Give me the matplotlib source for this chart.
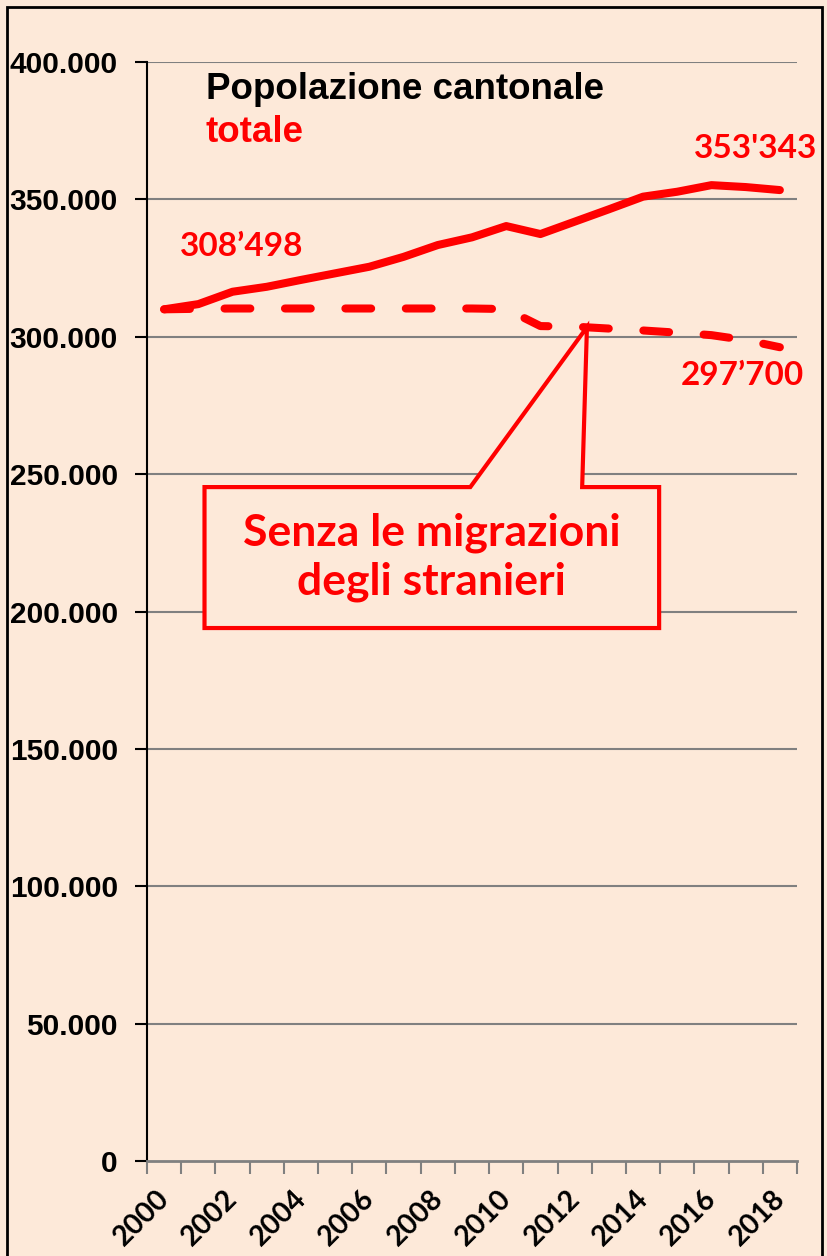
import matplotlib
matplotlib.use('Agg')
import matplotlib.pyplot as plt
from matplotlib.patches import Polygon, Rectangle
from matplotlib.ticker import FixedLocator
from matplotlib.transforms import ScaledTranslation
import numpy as np

years = list(range(2000, 2019))
totale = [310000, 311900, 316400, 318200, 320700, 323100, 325500, 329100,
          333400, 336200, 340300, 337400, 341900, 346400, 351000, 352800,
          355200, 354500, 353400]
senza_migrazioni = [310000, 310200, 310300, 310300, 310300, 310300, 310300,
                    310300, 310300, 310300, 310100, 303900, 303700, 303000,
                    302300, 301500, 300600, 298800, 296200]
y_ticks = [0, 50000, 100000, 150000, 200000, 250000, 300000, 350000, 400000]
y_labels = ['0', '50.000', '100.000', '150.000', '200.000', '250.000',
            '300.000', '350.000', '400.000']

BG = '#FDE9D9'
RED = '#FF0000'
CALIBRI = ['Lato', 'DejaVu Sans']
ARIAL = ['Liberation Sans', 'DejaVu Sans']

fig = plt.figure(figsize=(8.27, 12.56), dpi=100, facecolor=BG)
ax = fig.add_axes([0.1778, 0.0756, 0.9637 - 0.1778, 0.9506 - 0.0756])
ax.set_facecolor(BG)

x = np.arange(len(years))
ax.plot(x, totale, color=RED, lw=5.8, solid_capstyle='round',
        solid_joinstyle='round', zorder=4)
ax.plot(x, senza_migrazioni, color=RED, lw=5.8, dashes=(3.2, 4.3),
        dash_capstyle='round', zorder=4)

ax.set_xlim(-0.5, len(years) - 0.5)
ax.set_ylim(0, 400000)

# gridlines and axes
for yv in y_ticks[1:]:
    ax.axhline(yv, color='#808080', lw=1.5, zorder=1)
ax.set_yticks(y_ticks)
ax.set_yticklabels(y_labels, fontfamily=ARIAL, fontsize=21.5,
                   fontweight='bold')
ax.tick_params(axis='y', length=9, width=1.5, color='black', pad=12)

ax.xaxis.set_major_locator(FixedLocator(x[::2]))
ax.set_xticklabels([str(y) for y in years[::2]], rotation=45, ha='right',
                   va='center', rotation_mode='anchor', fontfamily=CALIBRI,
                   fontsize=20.5, fontweight='bold')
ax.xaxis.set_minor_locator(FixedLocator(np.arange(-0.5, len(years), 1)))
ax.tick_params(axis='x', which='major', length=0, pad=24)
ax.tick_params(axis='x', which='minor', length=9, width=1.5, color='#808080')
shift = ScaledTranslation(0.01, 0, fig.dpi_scale_trans)
for lab in ax.get_xticklabels():
    lab.set_transform(lab.get_transform() + shift)

for s in ['top', 'right']:
    ax.spines[s].set_visible(False)
ax.spines['left'].set_color('black')
ax.spines['left'].set_linewidth(1.5)
ax.spines['bottom'].set_color('#808080')
ax.spines['bottom'].set_linewidth(2)

# titles
ax.text(0.09, 0.975, 'Popolazione cantonale', transform=ax.transAxes,
        fontfamily=ARIAL, fontsize=26.5, fontweight='bold', color='black',
        va='center', ha='left')
ax.text(0.09, 0.936, 'totale', transform=ax.transAxes,
        fontfamily=ARIAL, fontsize=26.5, fontweight='bold', color=RED,
        va='center', ha='left')

# value labels
ax.text(0.45, 333000, '308\u2019498', fontfamily=CALIBRI, fontsize=24,
        fontweight='bold', color=RED, ha='left', va='center')
ax.text(17.3, 368500, "353'343", fontfamily=CALIBRI, fontsize=24,
        fontweight='bold', color=RED, ha='center', va='center')
ax.text(16.9, 286000, '297\u2019700', fontfamily=CALIBRI, fontsize=24,
        fontweight='bold', color=RED, ha='center', va='center')

# callout
x0, x1 = 1.18, 14.47
y0, y1 = 194000, 245300
callout = Polygon([(x0, y0), (x0, y1), (8.95, y1), (12.36, 303500),
                   (12.22, y1), (x1, y1), (x1, y0)], closed=True,
                  facecolor=BG, edgecolor=RED, lw=3, zorder=5)
ax.add_patch(callout)
ax.text((x0 + x1) / 2, (y0 + y1) / 2, 'Senza le migrazioni\ndegli stranieri',
        fontfamily=CALIBRI, fontsize=32, fontweight='bold', color=RED,
        ha='center', va='center', linespacing=1.25, zorder=6)

# outer frame
fig.patches.append(Rectangle((7 / 827, -0.01), 815 / 827, 1 - 7 / 1256 + 0.01,
                             transform=fig.transFigure, fill=False,
                             edgecolor='black', lw=2))

fig.savefig('out.png', dpi=100, facecolor=BG)
